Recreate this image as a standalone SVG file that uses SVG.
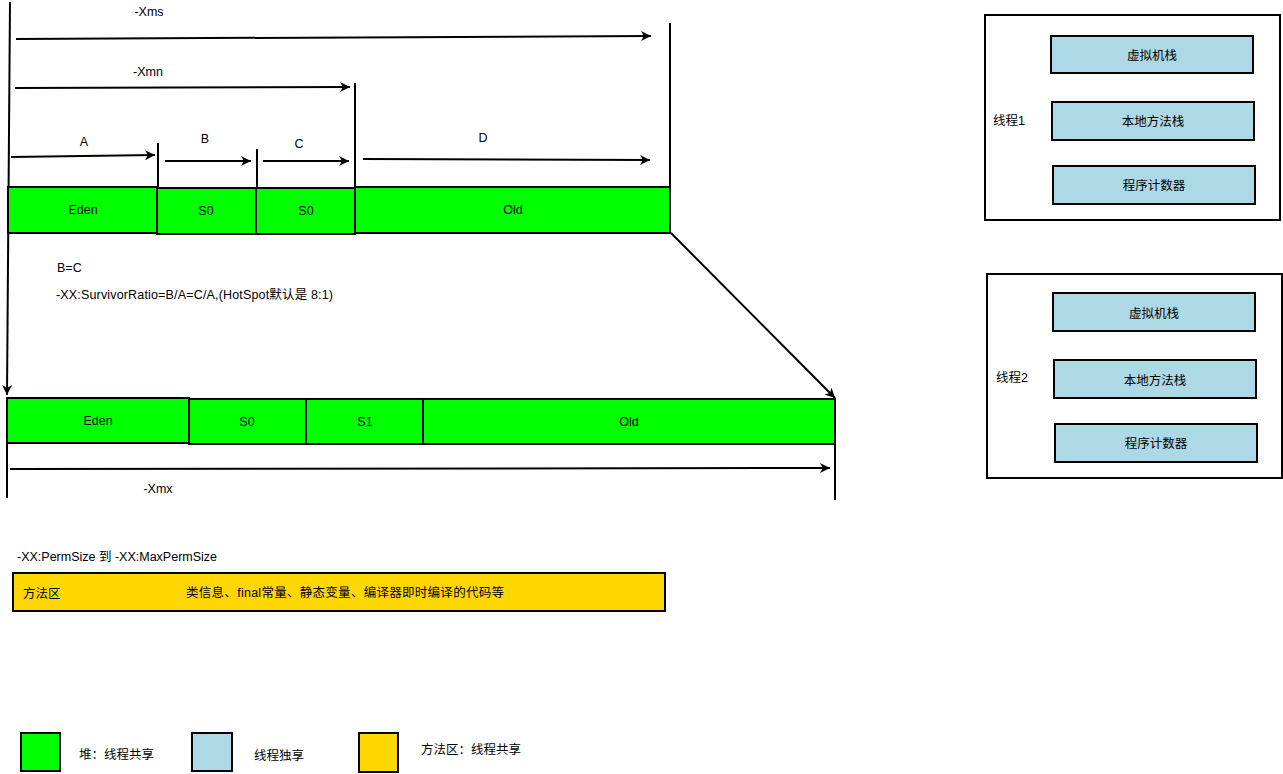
<svg xmlns="http://www.w3.org/2000/svg" width="1283" height="774" viewBox="0 0 1283 774">
<defs>
<marker id="ah" markerWidth="12" markerHeight="12" viewBox="0 0 12 12" refX="11" refY="6" orient="auto" markerUnits="userSpaceOnUse">
<path d="M1,1 L11,6 L1,11 L4,6 Z" fill="#000"/>
</marker>
<style>
text{font-family:"Liberation Sans","Noto Sans CJK SC",sans-serif;font-size:12.5px;fill:#000}
.c{text-anchor:middle}
.heap{fill:#00ff00;stroke:#000;stroke-width:2}
.own{fill:#add8e6;stroke:#000;stroke-width:2}
.meth{fill:#ffd700;stroke:#000;stroke-width:2}
.frame{fill:#fff;stroke:#000;stroke-width:2}
.ln{stroke:#000;stroke-width:2;fill:none}
.ar{stroke:#000;stroke-width:2;fill:none;marker-end:url(#ah)}
</style>
</defs>
<rect width="1283" height="774" fill="#fff"/>

<g id="connectors">
<line class="ar" x1="10" y1="2" x2="7" y2="395"/>
<line class="ar" x1="16" y1="39" x2="651" y2="36"/>
<line class="ln" x1="670" y1="23" x2="670" y2="233"/>
<line class="ar" x1="15" y1="88" x2="350" y2="87"/>
<line class="ln" x1="355" y1="83" x2="355" y2="188"/>
<line class="ar" x1="11" y1="157" x2="155" y2="155"/>
<line class="ln" x1="158" y1="143" x2="158" y2="188"/>
<line class="ar" x1="165" y1="161" x2="251" y2="161"/>
<line class="ln" x1="257" y1="149" x2="257" y2="188"/>
<line class="ar" x1="263" y1="161" x2="349" y2="161"/>
<line class="ar" x1="363" y1="159" x2="650" y2="160"/>
<line class="ar" x1="671" y1="233" x2="835" y2="398"/>
<line class="ln" x1="7" y1="443" x2="7" y2="498"/>
<line class="ln" x1="835" y1="443" x2="835" y2="500"/>
<line class="ar" x1="10" y1="469" x2="830" y2="468"/>
</g>

<g id="labels">
<text class="c" x="149" y="16">-Xms</text>
<text class="c" x="148" y="76">-Xmn</text>
<text class="c" x="84" y="146">A</text>
<text class="c" x="205" y="143">B</text>
<text class="c" x="299" y="148">C</text>
<text class="c" x="483" y="142">D</text>
<text x="57" y="272">B=C</text>
<text x="56" y="299" textLength="277">-XX:SurvivorRatio=B/A=C/A,(HotSpot默认是 8:1)</text>
<text class="c" x="158" y="493">-Xmx</text>
<text x="17" y="561">-XX:PermSize 到 -XX:MaxPermSize</text>
</g>

<g id="young-top">
<rect class="heap" x="8" y="187" width="149" height="46"/>
<text class="c" x="83" y="214">Eden</text>
<rect class="heap" x="157" y="188" width="99" height="46"/>
<text class="c" x="206" y="215">S0</text>
<rect class="heap" x="256" y="188" width="99" height="46"/>
<text class="c" x="306" y="215">S0</text>
<rect class="heap" x="355" y="187" width="315" height="46"/>
<text class="c" x="513" y="214">Old</text>
</g>

<g id="heap-bottom">
<rect class="heap" x="7" y="398" width="182" height="45"/>
<text class="c" x="98" y="425">Eden</text>
<rect class="heap" x="189" y="399" width="117" height="45"/>
<text class="c" x="247" y="426">S0</text>
<rect class="heap" x="306" y="399" width="117" height="45"/>
<text class="c" x="365" y="426">S1</text>
<rect class="heap" x="423" y="399" width="412" height="45"/>
<text class="c" x="629" y="426">Old</text>
</g>

<g id="method-area">
<rect class="meth" x="13" y="573" width="652" height="38"/>
<text x="23" y="598">方法区</text>
<text x="186" y="597" textLength="318">类信息、final常量、静态变量、编译器即时编译的代码等</text>
</g>

<g id="thread1">
<rect class="frame" x="985" y="15" width="295" height="205"/>
<text x="993" y="125">线程1</text>
<rect class="own" x="1051" y="36" width="202" height="37"/>
<text class="c" x="1152" y="60">虚拟机栈</text>
<rect class="own" x="1052" y="102" width="202" height="38"/>
<text class="c" x="1153" y="126">本地方法栈</text>
<rect class="own" x="1053" y="166" width="202" height="38"/>
<text class="c" x="1154" y="190">程序计数器</text>
</g>

<g id="thread2">
<rect class="frame" x="987" y="274" width="295" height="204"/>
<text x="996" y="382">线程2</text>
<rect class="own" x="1053" y="293" width="202" height="38"/>
<text class="c" x="1154" y="318">虚拟机栈</text>
<rect class="own" x="1054" y="360" width="202" height="38"/>
<text class="c" x="1155" y="385">本地方法栈</text>
<rect class="own" x="1055" y="424" width="202" height="38"/>
<text class="c" x="1156" y="448">程序计数器</text>
</g>

<g id="legend">
<rect class="heap" x="21" y="733" width="39" height="38"/>
<text x="79" y="759">堆：线程共享</text>
<rect class="own" x="192" y="733" width="40" height="38"/>
<text x="254" y="760">线程独享</text>
<rect class="meth" x="359" y="733" width="39" height="39"/>
<text x="421" y="754">方法区：线程共享</text>
</g>
</svg>
